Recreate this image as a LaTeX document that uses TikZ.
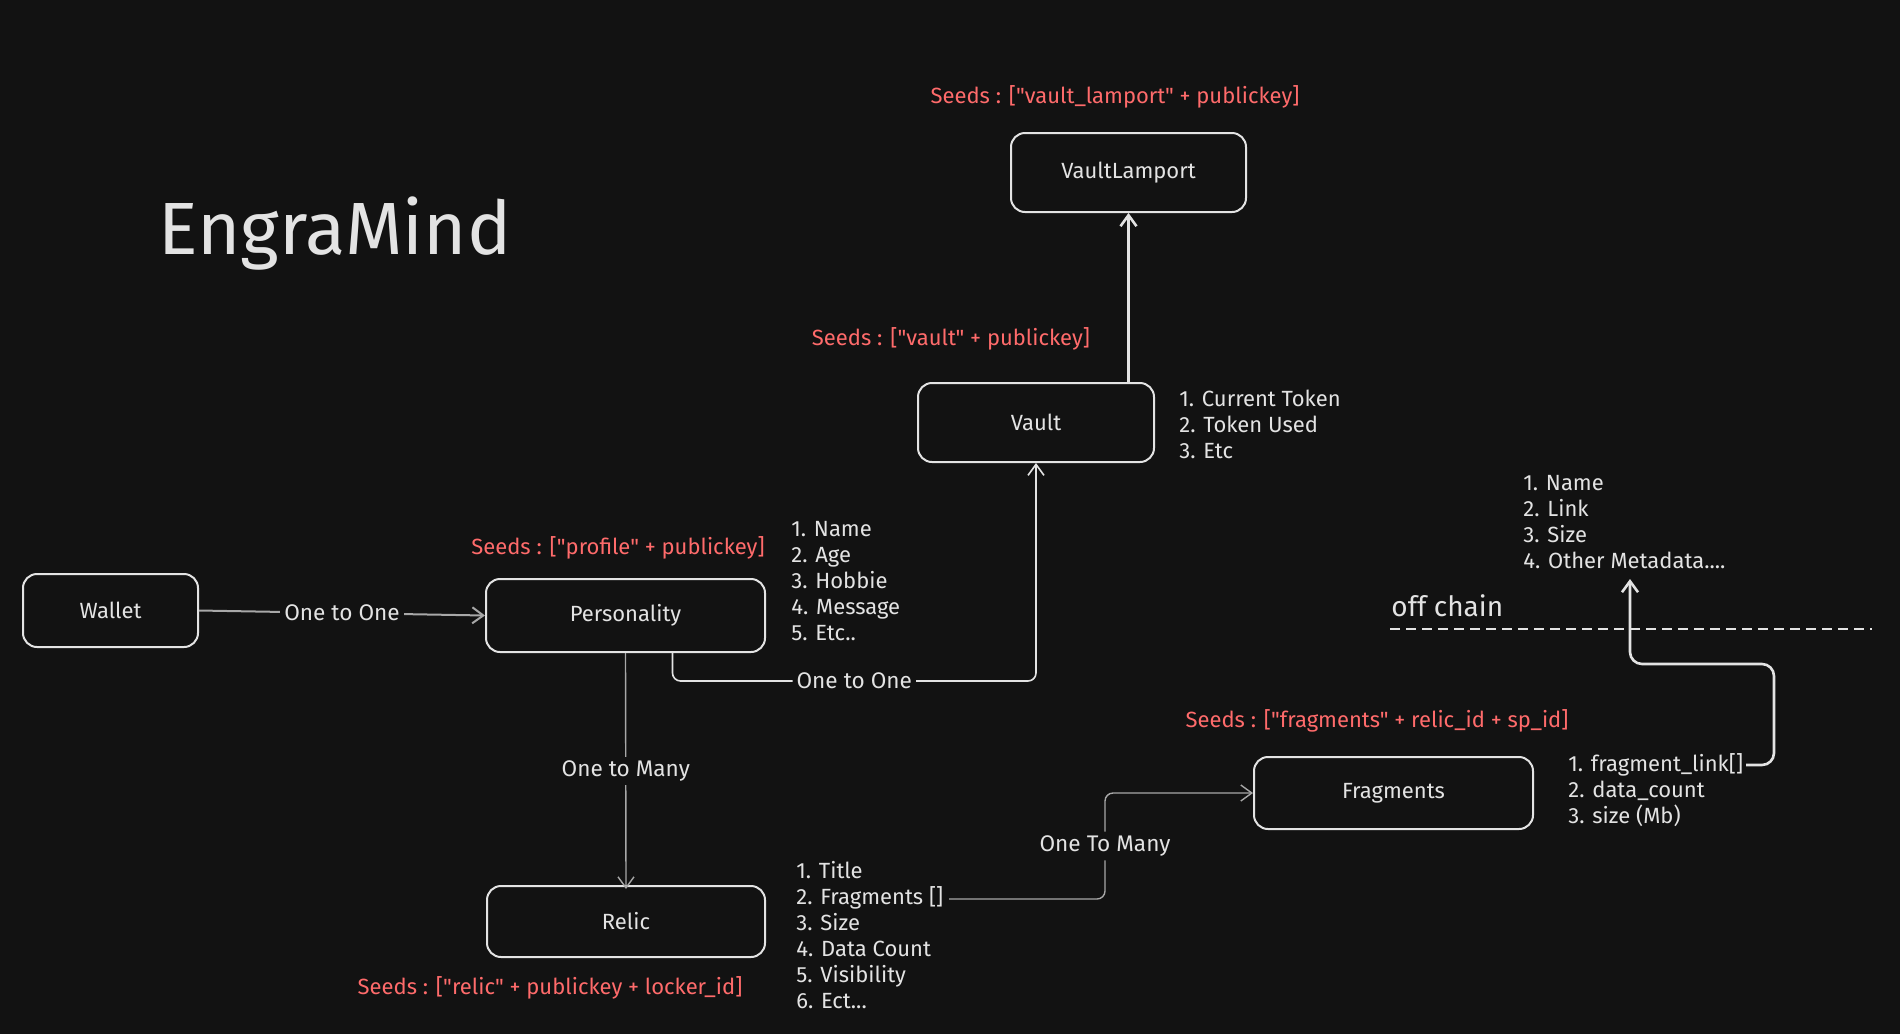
\documentclass[tikz,border=0pt]{standalone}
\usepackage{fontspec}
\setmainfont{Fira Sans}[Ligatures=TeXOff]
\usetikzlibrary{arrows.meta}
\definecolor{bg}{HTML}{121212}
\definecolor{ink}{HTML}{E3E3E3}
\definecolor{seed}{HTML}{FF6B6B}
\definecolor{conn}{HTML}{A8A8A8}
\newcommand{\dq}{\symbol{34}}
\begin{document}
\begin{tikzpicture}[x=0.5pt,y=-0.5pt,
  entity/.style={draw=ink, line width=1pt, rounded corners=7pt, fill=bg, text=ink,
    font=\fontsize{11}{13}\selectfont, inner sep=0pt},
  seedtext/.style={text=seed, font=\fontsize{11}{13}\selectfont, inner sep=0pt},
  listtext/.style={text=ink, font=\fontsize{11}{13}\selectfont, align=left,
    anchor=north west, inner sep=0pt},
  rellabel/.style={text=ink, font=\fontsize{11.3}{13}\selectfont, fill=bg, inner sep=2pt},
  barbtip/.style={-{Straight Barb[length=5.5pt,width=8pt]}},
  thinconn/.style={draw=conn, line width=0.7pt, barbtip},
  whiteconn/.style={draw=ink, line width=0.8pt, barbtip, rounded corners=4pt},
  thickconn/.style={draw=ink, line width=1.3pt, barbtip, rounded corners=6pt}
]
\useasboundingbox (0,0) rectangle (1900,1034);
\fill[bg] (0,0) rectangle (1900,1034);

% title
\node[text=ink, font=\fontsize{37}{40}\selectfont, anchor=base west, inner sep=0pt] (title) at (158,254) {EngraMind};

% entities
\node[entity, minimum width=117.5pt, minimum height=39.5pt] (vl) at (1128.5,172.5) {VaultLamport};
\node[entity, minimum width=118pt, minimum height=39.5pt] (vault) at (1036,422.5) {Vault};
\node[entity, minimum width=139.5pt, minimum height=36.5pt] (personality) at (625.5,615.5) {Personality};
\node[entity, minimum width=87.5pt, minimum height=36.5pt] (wallet) at (110.5,610.5) {Wallet};
\node[entity, minimum width=139pt, minimum height=35.5pt] (relic) at (626,921.5) {Relic};
\node[entity, minimum width=139.5pt, minimum height=36pt] (fragments) at (1393.5,793) {Fragments};

% seeds
\node[seedtext] (seedvl) at (1115,97) {Seeds : [\dq vault\_lamport\dq{} + publickey]};
\node[seedtext] (seedvault) at (951,339) {Seeds : [\dq vault\dq{} + publickey]};
\node[seedtext] (seedprofile) at (618,548) {Seeds : [\dq profile\dq{} + publickey]};
\node[seedtext] (seedrelic) at (550,988) {Seeds : [\dq relic\dq{} + publickey + locker\_id]};
\node[seedtext] (seedfrag) at (1377,721) {Seeds : [\dq fragments\dq{} + relic\_id + sp\_id]};

% lists
\node[listtext] (vaultlist) at (1179,390) {1. Current Token\\2. Token Used\\3. Etc};
\node[listtext] (perslist) at (791,521) {1. Name\\2. Age\\3. Hobbie\\4. Message\\5. Etc..};
\node[listtext] (reliclist) at (796,861) {1. Title\\2. Fragments []\\3. Size\\4. Data Count\\5. Visibility\\6. Ect...};
\node[listtext] (fraglist) at (1568,753) {1. fragment\_link[]\\2. data\_count\\3. size (Mb)};
\node[listtext] (offlist) at (1523,475) {1. Name\\2. Link\\3. Size\\4. Other Metadata....};

% off chain
\node[text=ink, font=\fontsize{14}{16}\selectfont, anchor=west, inner sep=0pt] (offchain) at (1391,606) {off chain};
\coordinate (dashL) at (1390,629);
\coordinate (dashR) at (1872,629);
\draw[ink, line width=1.3pt, dash pattern=on 5pt off 3pt] (dashL) -- (dashR);

% connectors
\draw[thinconn, line width=1pt] (wallet.east) -- node[rellabel]{One to One} (personality.west);

\coordinate (pstart) at ([xshift=23.5pt]personality.south);
\coordinate (pvturn) at (1036,681);
\draw[whiteconn] (pstart) -- (pstart |- pvturn) -- node[rellabel]{One to One} (pvturn) -- (vault.south);

\draw[thinconn] (personality.south) -- node[rellabel]{One to Many} ([yshift=-2pt]relic.north);

\coordinate (fs) at (949,899);
\coordinate (bend) at (1105,0);
\draw[thinconn, rounded corners=4pt] (fs) -- (fs -| bend) -- node[rellabel]{One To Many} (bend |- fragments.west) -- (fragments.west);

\draw[thickconn] (vl.south |- vault.north) -- (vl.south);

\coordinate (fl) at (1746,765);
\coordinate (c1) at (1774,664);
\coordinate (offend) at (1630,579);
\draw[thickconn] (fl) -| (c1) -| (offend);
\end{tikzpicture}
\end{document}
